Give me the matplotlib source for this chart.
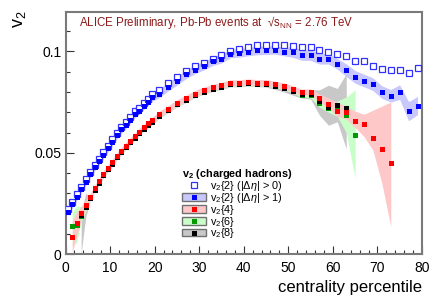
import matplotlib
matplotlib.use('Agg')
import matplotlib.pyplot as plt
from matplotlib.patches import Rectangle
from matplotlib.lines import Line2D
from matplotlib.ticker import MultipleLocator

plt.rcParams['font.family'] = ['Liberation Sans', 'DejaVu Sans']
plt.rcParams['mathtext.fontset'] = 'custom'
plt.rcParams['mathtext.rm'] = 'Liberation Sans'
plt.rcParams['mathtext.it'] = 'Liberation Sans:italic'
plt.rcParams['mathtext.bf'] = 'Liberation Sans:bold'

# centrality bin centres (1% bins up to 20%, then 2% bins)
cent = [0.5, 1.5, 2.5, 3.5, 4.5, 5.5, 6.5, 7.5, 8.5, 9.5,
        10.5, 11.5, 12.5, 13.5, 14.5, 15.5, 16.5, 17.5, 18.5, 19.5,
        21, 23, 25, 27, 29, 31, 33, 35, 37, 39, 41, 43, 45, 47, 49,
        51, 53, 55, 57, 59, 61, 63, 65, 67, 69, 71, 73, 75, 77, 79]

# v2{2} |deta|>0 (open) and |deta|>1 (filled)
v2_2_gap0 = [0.0223, 0.0259, 0.0297, 0.0333, 0.0369, 0.0407, 0.0439, 0.0472, 0.0503, 0.0535,
             0.0567, 0.0600, 0.0628, 0.0650, 0.0678, 0.0704, 0.0722, 0.0745, 0.0766, 0.0788,
             0.0808, 0.0843, 0.0873, 0.0905, 0.0928, 0.0940, 0.0961, 0.0981, 0.1002, 0.1010,
             0.1022, 0.1029, 0.1030, 0.1033, 0.1033, 0.1026, 0.1021, 0.1019, 0.1005, 0.0999,
             0.0989, 0.0979, 0.0953, 0.0951, 0.0927, 0.0915, 0.0908, 0.0908, 0.0891, 0.0920]
v2_2_gap1 = [0.0210, 0.0246, 0.0284, 0.0321, 0.0357, 0.0395, 0.0428, 0.0459, 0.0491, 0.0522,
             0.0554, 0.0587, 0.0615, 0.0636, 0.0664, 0.0690, 0.0707, 0.0730, 0.0751, 0.0773,
             0.0792, 0.0825, 0.0854, 0.0886, 0.0910, 0.0929, 0.0951, 0.0963, 0.0989, 0.0992,
             0.0999, 0.1004, 0.1005, 0.1007, 0.0999, 0.0996, 0.0982, 0.0981, 0.0963, 0.0963,
             0.0938, 0.0907, 0.0874, 0.0856, 0.0838, 0.0799, 0.0781, 0.0799, 0.0705, 0.0733]
v2_2_gap1_sys = [0.0018] * 20 + [0.0021] * 15 + [0.0026] * 6 + [0.0031] * 6 + [0.0036, 0.0047, 0.0045]

# v2{4}
cent_4 = cent[1:47]
v2_4 = [0.0087, 0.0153, 0.0202, 0.0243, 0.0284, 0.0325, 0.0361, 0.0397, 0.0426,
        0.0453, 0.0485, 0.0511, 0.0536, 0.0559, 0.0582, 0.0605, 0.0625, 0.0645, 0.0661,
        0.0690, 0.0717, 0.0746, 0.0768, 0.0792, 0.0809, 0.0822, 0.0832, 0.0845, 0.0845,
        0.0849, 0.0846, 0.0846, 0.0838, 0.0830, 0.0815, 0.0799, 0.0800, 0.0769, 0.0740,
        0.0707, 0.0703, 0.0656, 0.0641, 0.0575, 0.0517, 0.0449]
v2_4_lo = [0.0010, 0.0090, 0.0170, 0.0220, 0.0269, 0.0310, 0.0346, 0.0382, 0.0411,
           0.0438, 0.0470, 0.0496, 0.0521, 0.0544, 0.0567, 0.0590, 0.0610, 0.0630, 0.0646,
           0.0675, 0.0702, 0.0731, 0.0753, 0.0777, 0.0794, 0.0807, 0.0817, 0.0830, 0.0830,
           0.0834, 0.0831, 0.0831, 0.0823, 0.0815, 0.0800, 0.0784, 0.0785, 0.0750, 0.0720,
           0.0680, 0.0665, 0.0625, 0.0580, 0.0513, 0.0350, 0.0137]
v2_4_hi = [0.0165, 0.0210, 0.0235, 0.0265, 0.0299, 0.0340, 0.0376, 0.0412, 0.0441,
           0.0468, 0.0500, 0.0526, 0.0551, 0.0574, 0.0597, 0.0620, 0.0640, 0.0660, 0.0676,
           0.0705, 0.0732, 0.0761, 0.0783, 0.0807, 0.0824, 0.0837, 0.0847, 0.0860, 0.0860,
           0.0864, 0.0861, 0.0861, 0.0853, 0.0845, 0.0830, 0.0814, 0.0815, 0.0790, 0.0770,
           0.0750, 0.0730, 0.0705, 0.0690, 0.0710, 0.0730, 0.0750]

# v2{6}
cent_6 = cent[1:43]
v2_6 = [0.0139, 0.0146, 0.0190, 0.0236, 0.0280, 0.0321, 0.0357, 0.0393, 0.0422,
        0.0449, 0.0481, 0.0507, 0.0532, 0.0555, 0.0578, 0.0601, 0.0621, 0.0641, 0.0657,
        0.0685, 0.0712, 0.0741, 0.0763, 0.0787, 0.0804, 0.0817, 0.0827, 0.0840, 0.0840,
        0.0843, 0.0840, 0.0840, 0.0833, 0.0824, 0.0808, 0.0787, 0.0784, 0.0743, 0.0723,
        0.0719, 0.0686, 0.0587]
v2_6_lo = [0.0040, 0.0060, 0.0160, 0.0210, 0.0268, 0.0309, 0.0345, 0.0381, 0.0410,
           0.0437, 0.0469, 0.0495, 0.0520, 0.0543, 0.0566, 0.0589, 0.0609, 0.0629, 0.0645,
           0.0673, 0.0700, 0.0729, 0.0751, 0.0775, 0.0792, 0.0805, 0.0815, 0.0828, 0.0828,
           0.0831, 0.0828, 0.0828, 0.0821, 0.0812, 0.0796, 0.0774, 0.0770, 0.0725, 0.0700,
           0.0680, 0.0600, 0.0374]
v2_6_hi = [0.0210, 0.0240, 0.0235, 0.0260, 0.0292, 0.0333, 0.0369, 0.0405, 0.0434,
           0.0461, 0.0493, 0.0519, 0.0544, 0.0567, 0.0590, 0.0613, 0.0633, 0.0653, 0.0669,
           0.0697, 0.0724, 0.0753, 0.0775, 0.0799, 0.0816, 0.0829, 0.0839, 0.0852, 0.0852,
           0.0855, 0.0852, 0.0852, 0.0845, 0.0836, 0.0820, 0.0800, 0.0798, 0.0760, 0.0745,
           0.0755, 0.0775, 0.0810]

# v2{8}
cent_8 = cent[3:42]
v2_8 = [0.0192, 0.0232, 0.0277, 0.0318, 0.0354, 0.0390, 0.0419,
        0.0446, 0.0478, 0.0504, 0.0529, 0.0552, 0.0575, 0.0598, 0.0618, 0.0638, 0.0654,
        0.0683, 0.0710, 0.0739, 0.0761, 0.0785, 0.0802, 0.0815, 0.0825, 0.0838, 0.0838,
        0.0842, 0.0839, 0.0838, 0.0829, 0.0820, 0.0806, 0.0790, 0.0788, 0.0753, 0.0725,
        0.0735, 0.0719]
v2_8_lo = [0.0005, 0.0180, 0.0264, 0.0305, 0.0341, 0.0377, 0.0406,
           0.0433, 0.0465, 0.0491, 0.0516, 0.0539, 0.0562, 0.0585, 0.0605, 0.0625, 0.0641,
           0.0670, 0.0697, 0.0726, 0.0748, 0.0772, 0.0789, 0.0802, 0.0812, 0.0825, 0.0825,
           0.0829, 0.0826, 0.0824, 0.0812, 0.0800, 0.0784, 0.0770, 0.0765, 0.0685, 0.0636,
           0.0653, 0.0520]
v2_8_hi = [0.0200, 0.0300, 0.0287, 0.0328, 0.0364, 0.0400, 0.0429,
           0.0456, 0.0488, 0.0514, 0.0539, 0.0562, 0.0585, 0.0608, 0.0628, 0.0648, 0.0664,
           0.0693, 0.0720, 0.0749, 0.0771, 0.0795, 0.0812, 0.0825, 0.0835, 0.0848, 0.0848,
           0.0852, 0.0849, 0.0848, 0.0842, 0.0835, 0.0824, 0.0810, 0.0810, 0.0810, 0.0833,
           0.0817, 0.0890]

blue_band = '#c8c8ff'
red_band = '#ffc8c8'
green_band = '#c8ffc8'
gray_band = '#c8c8c8'

fig = plt.figure(figsize=(4.4, 3.0), dpi=100)
ax = fig.add_axes([0.149, 0.152, 0.81, 0.809])

# systematic bands
lo1 = [v - e for v, e in zip(v2_2_gap1, v2_2_gap1_sys)]
hi1 = [v + e for v, e in zip(v2_2_gap1, v2_2_gap1_sys)]
ax.fill_between(cent, lo1, hi1, color=blue_band, lw=0, zorder=1)
ax.fill_between(cent_8, v2_8_lo, v2_8_hi, color=gray_band, lw=0, zorder=1)
ax.fill_between(cent_6, v2_6_lo, v2_6_hi, color=green_band, lw=0, zorder=1)
ax.fill_between(cent_4, v2_4_lo, v2_4_hi, color=red_band, lw=0, zorder=1)

# points
ms = 3.6
ms_open = 4.2
ax.plot(cent, v2_2_gap0, 's', ms=ms_open, mfc='white', mec='#3030ff', mew=0.9, zorder=3)
ax.plot(cent, v2_2_gap1, 's', ms=ms, color='#0000ff', mew=0, zorder=4)
ax.plot(cent_6, v2_6, 's', ms=ms, color='#009900', mew=0, zorder=4)
ax.plot(cent_8, v2_8, 's', ms=ms, color='black', mew=0, zorder=4)
ax.plot(cent_4, v2_4, 's', ms=ms, color='#ff0000', mew=0, zorder=5)

ax.set_xlim(0, 80)
ax.set_ylim(0, 0.1195)
ax.xaxis.set_major_locator(MultipleLocator(10))
ax.xaxis.set_minor_locator(MultipleLocator(2))
ax.yaxis.set_major_locator(MultipleLocator(0.05))
ax.yaxis.set_minor_locator(MultipleLocator(0.01))
ax.yaxis.set_major_formatter(plt.FuncFormatter(lambda v, p: '0' if v == 0 else ('%g' % v)))
ax.tick_params(which='both', direction='in', color='#333333', width=0.8,
               labelsize=10, top=False, right=False)
ax.tick_params(which='major', length=6)
ax.tick_params(which='minor', length=3)
ax.tick_params(axis='x', pad=5)
ax.tick_params(axis='y', pad=3)
for s in ax.spines.values():
    s.set_color('#7a7a7a')
    s.set_linewidth(1.5)

ax.set_xlabel('centrality percentile', fontsize=12, loc='right', labelpad=3)
fig.text(0.045, 0.965, 'v$_2$', rotation=90, ha='center', va='top', fontsize=13)

ax.text(0.037, 0.955, 'ALICE Preliminary, Pb-Pb events at  \u221as$_{\\rm NN}$ = 2.76 TeV',
        transform=ax.transAxes, color='#8b1a1a', fontsize=8.3, ha='left', va='center')

# legend
def box(c, mc):
    return (Rectangle((0, 0), 1, 1, fc=c, ec='#707070', lw=1.0),
            Line2D([], [], ls='', marker='s', ms=ms, color=mc, mew=0))

handles = [Line2D([], [], ls='', marker='s', ms=ms_open, mfc='white', mec='#3030ff', mew=0.9),
           box(blue_band, '#0000ff'), box(red_band, '#ff0000'),
           box(green_band, '#009900'), box(gray_band, 'black')]
labels = ['v$_2${2} (|$\\Delta\\eta$| > 0)', 'v$_2${2} (|$\\Delta\\eta$| > 1)',
          'v$_2${4}', 'v$_2${6}', 'v$_2${8}']
leg = ax.legend(handles, labels, title='v$_\\mathbf{2}$ (charged hadrons)',
                loc='upper left', bbox_to_anchor=(0.305, 0.39), frameon=False,
                fontsize=7.8, handlelength=2.2, handleheight=0.7, handletextpad=0.4,
                labelspacing=-0.2, borderpad=0.2, alignment='left',
                title_fontproperties={'weight': 'bold', 'size': 7.8})

fig.savefig('out.png', dpi=100)
